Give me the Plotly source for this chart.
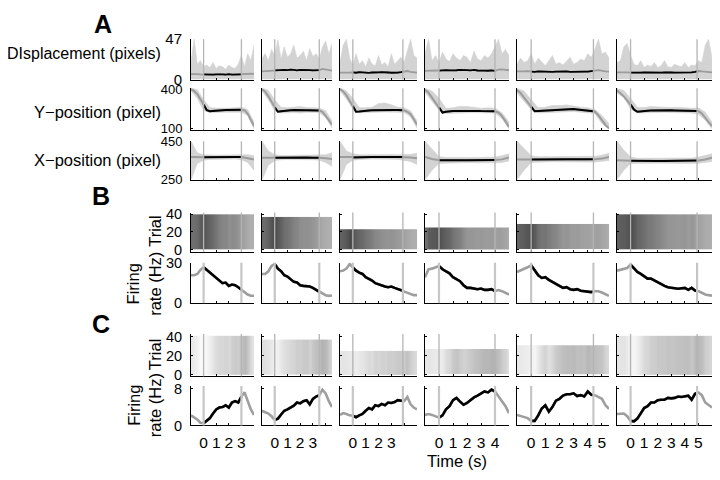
import numpy as np
import plotly.graph_objects as go

# page is 720x480; the browser body adds an 8 px margin round the figure
PAGE_W, PAGE_H, PAD = 720, 480, 8
W, H = PAGE_W - 2 * PAD, PAGE_H - 2 * PAD

# ---------------- layout of the six sessions (columns) ----------------
DELAY = [3.0, 3.5, 3.9, 4.0, 4.4, 4.9]          # end of delay (s)
T_END = [4.0, 4.5, 5.0, 5.0, 5.5, 6.0]          # right end of time axis (s)
TIME_TICKS = [[0, 1, 2, 3], [0, 1, 2, 3], [0, 1, 2, 3], [0, 1, 2, 3, 4],
              [0, 1, 2, 3, 4, 5], [0, 1, 2, 3, 4, 5]]
COL_LEFT_PX = [191, 262, 340, 425, 517, 617]
COL_RIGHT_PX = [254, 332, 417, 509, 609, 712]

# ---------------- data ----------------
# Displacement (pixels), sampled every 0.25 s from -1 s
DISP_TOP = [
    [20, 47, 18, 22, 15, 17, 14, 20, 13, 16, 15, 12, 17, 14, 13, 18, 28, 15, 30, 22, 40],
    [25, 30, 22, 35, 28, 46, 24, 38, 26, 30, 40, 25, 28, 33, 22, 36, 27, 30, 24, 38, 45, 30, 42],
    [20, 40, 47, 25, 17, 30, 18, 22, 15, 25, 18, 16, 28, 17, 20, 15, 30, 18, 22, 26, 20, 35, 47, 28, 25],
    [30, 47, 22, 28, 20, 32, 24, 21, 30, 25, 22, 28, 26, 20, 33, 24, 22, 28, 25, 30, 38, 47, 30, 35, 28],
    [18, 25, 20, 22, 30, 18, 25, 20, 16, 22, 28, 18, 20, 17, 22, 26, 18, 20, 24, 22, 30, 26, 35, 47, 30, 32, 25],
    [20, 22, 38, 42, 28, 18, 16, 22, 14, 17, 15, 20, 14, 16, 22, 15, 14, 18, 16, 15, 20, 14, 17, 16, 22, 20, 40, 47, 25],
]
DISP_MEAN = [
    [6.5, 6.8, 6.4, 6.2, 6.0, 5.8, 6.1, 5.9, 6.2, 5.7, 6.0, 5.9, 6.3, 5.8, 6.1, 6.0, 6.2, 6.5, 7.0, 6.8, 6.6],
    [9.5, 9.8, 10.0, 10.2, 10.8, 11.2, 10.9, 11.4, 11.0, 11.6, 11.2, 10.8, 11.3, 11.5, 10.9, 11.1, 10.7, 11.2, 11.0, 12.5, 11.8, 11.0, 10.5],
    [8.2, 8.0, 7.8, 8.1, 8.3, 8.0, 8.6, 8.2, 8.5, 7.9, 8.3, 8.0, 8.4, 8.7, 8.1, 8.3, 8.0, 8.5, 8.2, 8.6, 9.5, 10.0, 9.0, 8.5, 8.2],
    [10.2, 10.5, 10.3, 10.6, 10.4, 10.8, 11.0, 10.7, 11.2, 10.9, 11.3, 11.5, 11.0, 10.8, 11.2, 10.6, 10.9, 10.5, 10.3, 10.7, 10.2, 11.5, 11.8, 11.2, 10.9],
    [9.5, 9.3, 9.6, 9.8, 9.4, 9.0, 9.5, 9.2, 9.6, 9.3, 9.1, 9.4, 9.7, 9.2, 9.5, 9.0, 9.3, 9.6, 9.8, 9.4, 9.2, 9.5, 10.5, 11.0, 9.8, 9.5, 9.2],
    [8.5, 8.7, 8.3, 8.4, 8.2, 8.0, 8.3, 8.1, 8.4, 8.2, 8.0, 8.3, 8.1, 8.2, 8.4, 8.0, 8.3, 8.2, 8.1, 8.3, 8.0, 8.2, 8.5, 9.0, 10.0, 9.5, 9.0, 8.6, 8.4],
]
# Y-position (pixel): mean every 0.25 s, trial envelope every 0.5 s
YPOS_MEAN = [
    [400, 385, 362, 325, 284, 240, 232, 235, 238, 240, 240, 241, 241, 242, 242, 243, 244, 240, 212, 170, 120],
    [398, 380, 345, 300, 262, 228, 232, 236, 238, 240, 241, 241, 240, 241, 240, 240, 240, 239, 238, 228, 200, 165, 130],
    [400, 382, 352, 312, 272, 228, 230, 234, 236, 238, 239, 240, 240, 241, 242, 243, 243, 242, 241, 240, 238, 228, 210, 172, 130],
    [395, 372, 335, 298, 262, 222, 228, 232, 233, 233, 234, 234, 235, 235, 234, 234, 233, 233, 233, 233, 232, 222, 195, 155, 112],
    [392, 370, 335, 300, 268, 232, 234, 236, 238, 239, 240, 242, 244, 247, 250, 251, 249, 246, 243, 240, 238, 236, 230, 200, 160, 128, 102],
    [392, 372, 345, 315, 284, 245, 228, 232, 235, 236, 237, 238, 239, 240, 240, 240, 239, 238, 238, 237, 236, 236, 235, 234, 233, 215, 180, 150, 120],
]
YPOS_HI = [
    [410, 395, 320, 260, 255, 258, 256, 258, 262, 245, 150],
    [410, 390, 320, 262, 258, 265, 268, 260, 258, 256, 235, 160],
    [410, 385, 330, 260, 258, 262, 290, 295, 282, 262, 258, 235, 160],
    [405, 385, 330, 255, 258, 270, 268, 262, 255, 258, 255, 220, 150],
    [405, 385, 320, 258, 262, 275, 275, 280, 272, 262, 258, 245, 200, 140],
    [405, 390, 330, 262, 260, 268, 265, 262, 260, 262, 258, 255, 258, 225, 150],
]
YPOS_LO = [
    [385, 330, 240, 220, 222, 224, 225, 226, 225, 200, 100],
    [385, 320, 235, 218, 220, 222, 218, 224, 225, 222, 185, 105],
    [385, 325, 250, 220, 222, 225, 225, 226, 228, 225, 222, 190, 105],
    [375, 310, 240, 215, 218, 220, 220, 222, 222, 220, 218, 175, 100],
    [370, 310, 245, 218, 222, 224, 226, 228, 230, 225, 222, 215, 140, 97],
    [370, 335, 250, 218, 220, 222, 222, 224, 225, 222, 220, 218, 210, 165, 100],
]
# X-position (pixel): every 0.5 s
XPOS_MEAN = [
    [368, 366, 367, 368, 368, 369, 369, 369, 368, 362, 355],
    [365, 364, 364, 365, 365, 365, 366, 366, 365, 365, 362, 358],
    [368, 367, 366, 368, 368, 369, 369, 369, 369, 368, 368, 366, 362],
    [368, 358, 352, 351, 351, 351, 352, 352, 352, 352, 353, 356, 366],
    [356, 355, 355, 356, 356, 357, 357, 357, 357, 356, 356, 357, 360, 368],
    [352, 350, 349, 348, 348, 348, 348, 348, 348, 348, 348, 348, 350, 355, 365],
]
XPOS_HI = [
    [450, 390, 380, 378, 378, 379, 379, 380, 382, 380, 375],
    [450, 400, 380, 376, 376, 377, 377, 377, 377, 378, 380, 390],
    [450, 400, 385, 380, 380, 381, 381, 381, 381, 380, 380, 382, 388],
    [450, 410, 370, 366, 365, 365, 366, 366, 366, 366, 368, 375, 385],
    [450, 410, 375, 370, 370, 371, 371, 371, 371, 370, 370, 372, 378, 388],
    [450, 405, 368, 362, 362, 362, 362, 362, 362, 362, 362, 363, 368, 375, 385],
]
XPOS_LO = [
    [250, 335, 352, 356, 357, 358, 358, 358, 354, 340, 300],
    [250, 325, 350, 354, 355, 355, 355, 355, 354, 352, 340, 320],
    [250, 330, 352, 356, 357, 358, 358, 358, 357, 356, 352, 345, 330],
    [250, 300, 335, 338, 338, 338, 339, 339, 339, 339, 338, 340, 348],
    [250, 300, 340, 343, 343, 344, 344, 344, 344, 343, 342, 342, 345, 350],
    [250, 300, 335, 336, 336, 336, 336, 336, 336, 336, 336, 335, 336, 340, 345],
]
# Trials per session (raster heights)
TRIALS_B = [40, 37, 23, 25, 29, 40]
TRIALS_C = [41, 37, 25, 27, 31, 41]
# Firing rates (Hz), every 0.25 s from -1 s
RATE_B = [
    [21, 21, 22, 25, 27, 25, 23, 21.5, 19, 17, 15, 15.5, 13, 14, 13.5, 12, 10, 8, 6.5, 5.5, 5.5],
    [22, 22, 24, 28, 29.5, 26, 24, 21, 20, 18, 16, 15.5, 13.5, 13, 12.8, 12.5, 11.5, 10, 8.5, 7, 6, 5.5, 5.8],
    [24, 24.5, 26, 29.5, 27, 24.5, 23, 22, 19.5, 18.5, 17, 15, 14, 13, 12.5, 12, 12.5, 11.5, 10.5, 10, 9, 7.5, 6.5, 6, 6],
    [19.5, 25.5, 26, 27, 28, 25.5, 24, 22.5, 19.5, 18, 16.5, 13.5, 11.5, 11.5, 11, 10.5, 11, 10, 10, 10.5, 9, 9.8, 9, 8, 6.5],
    [23.5, 24.5, 25.5, 27, 28.5, 25, 21, 19, 19.5, 17.5, 16, 15, 13.5, 11.5, 12, 10.5, 10, 10.5, 9.3, 9, 8.8, 8.3, 9, 9, 8, 7, 5.5],
    [24.5, 25, 25.5, 26.5, 29, 26.5, 23.5, 22, 20.5, 18.5, 18.5, 17, 15.9, 14.5, 13, 12, 11.8, 11.2, 10.8, 11, 11.5, 10, 11.5, 9.5, 9, 7.8, 6.5, 6, 5.6],
]
RATE_C = [
    [2.2, 1.8, 1.3, 0.6, 0.5, 1.0, 1.6, 2.6, 3.5, 3.9, 4.0, 4.4, 3.9, 5.0, 5.3, 5.0, 6.3, 7.2, 5.5, 3.5, 2.3],
    [3.2, 2.9, 2.6, 2.0, 1.2, 1.5, 2.4, 3.2, 3.5, 4.0, 4.3, 5.0, 4.8, 5.3, 5.5, 4.6, 5.8, 6.3, 6.6, 7.8, 7.0, 5.3, 4.0],
    [2.3, 2.7, 2.5, 2.2, 2.1, 1.8, 2.2, 2.5, 3.2, 3.8, 3.5, 4.4, 4.2, 4.7, 4.4, 5.0, 4.9, 5.1, 5.5, 5.4, 5.3, 6.2, 4.6, 3.9, 3.5],
    [2.3, 2.5, 2.3, 2.0, 1.7, 2.2, 3.5, 4.2, 5.5, 6.0, 5.2, 4.5, 4.9, 5.6, 6.1, 6.5, 7.0, 7.4, 7.2, 7.8, 7.4, 6.4, 5.2, 4.2, 2.7],
    [2.3, 2.1, 1.9, 1.6, 1.0, 1.0, 2.2, 3.7, 4.4, 3.0, 4.0, 5.4, 5.8, 6.5, 6.8, 6.8, 7.0, 6.4, 6.6, 6.3, 7.4, 6.7, 6.6, 6.2, 5.8, 4.4, 3.6],
    [2.5, 2.6, 2.6, 2.0, 1.0, 0.9, 1.5, 2.6, 3.8, 4.2, 5.0, 5.0, 5.5, 5.6, 5.6, 6.0, 5.9, 6.0, 6.3, 6.2, 6.4, 6.5, 5.6, 6.9, 7.2, 6.6, 5.0, 4.4, 3.9],
]

# ---------------- rows ----------------
ROW_TOP_PX = [31, 82, 137, 211, 263, 337, 391]
ROW_BOT_PX = [73, 125, 177, 252, 305, 381, 432]
ROW_RANGE = [[0, 47], [92, 406], [250, 450], [-3, 42], [0, 30.5], [-2, 43], [0, 8.6]]
ROW_TICKS = [[0, 47], [100, 400], [250, 450], [0, 20, 40], [0, 30], [0, 20, 40], [0, 8]]
ROW_TICKFONT = [15, 13, 13, 14.5, 14.5, 14.5, 14.5]

FONT = "Liberation Sans, Arial, sans-serif"
GREY_LINE = "#9c9c9c"
BAND = "#d3d3d3"
VLINE = "#b4b4b4"


def fx(px):
    return min(1.0, max(0.0, (px - PAD) / W))


def fy(py):
    return min(1.0, max(0.0, 1 - (py - PAD) / H))


def tgrid(vals, step):
    return [-1 + i * step for i in range(len(vals))]


def delay_segment(t, v, d):
    t = np.asarray(t, float)
    v = np.asarray(v, float)
    inside = (t > 0) & (t < d)
    ts = np.concatenate([[0.0], t[inside], [d]])
    vs = np.concatenate([[np.interp(0.0, t, v)], v[inside], [np.interp(d, t, v)]])
    return ts, vs


fig = go.Figure()
layout = dict(width=W, height=H, autosize=False, margin=dict(l=0, r=0, t=0, b=0),
              paper_bgcolor="white", plot_bgcolor="white", showlegend=False,
              font=dict(family=FONT, color="black"))
shapes = []

for r in range(7):
    for c in range(6):
        k = r * 6 + c + 1
        xn = "x" if k == 1 else f"x{k}"
        yn = "y" if k == 1 else f"y{k}"
        xk = "xaxis" if k == 1 else f"xaxis{k}"
        yk = "yaxis" if k == 1 else f"yaxis{k}"
        d = DELAY[c]
        layout[xk] = dict(domain=[fx(COL_LEFT_PX[c]), fx(COL_RIGHT_PX[c])], anchor=yn,
                          range=[-1, T_END[c]], showline=True, linecolor="black", linewidth=1,
                          ticks="inside", ticklen=2, tickcolor="black",
                          tickvals=list(range(0, int(T_END[c]) + 1)),
                          ticktext=[str(v) if v in TIME_TICKS[c] else "" for v in range(0, int(T_END[c]) + 1)],
                          showticklabels=(r == 6), tickfont=dict(size=15.5),
                          ticklabelstandoff=3,
                          showgrid=False, zeroline=False, fixedrange=True)
        layout[yk] = dict(domain=[fy(ROW_BOT_PX[r]), fy(ROW_TOP_PX[r])], anchor=xn,
                          range=ROW_RANGE[r], showline=True, linecolor="black", linewidth=1,
                          ticks="inside", ticklen=2, tickcolor="black",
                          tickvals=ROW_TICKS[r], showticklabels=(c == 0),
                          tickfont=dict(size=ROW_TICKFONT[r]), ticklabelstandoff=5,
                          showgrid=False, zeroline=False, fixedrange=True)

        lw_v = 1.3
        if r == 0:
            t = tgrid(DISP_TOP[c], 0.25)
            fig.add_trace(go.Scatter(x=t, y=DISP_TOP[c], mode="lines", fill="tozeroy",
                                     fillcolor=BAND, line=dict(color=BAND, width=0.6),
                                     xaxis=xn, yaxis=yn, hoverinfo="skip"))
            tm = tgrid(DISP_MEAN[c], 0.25)
            fig.add_trace(go.Scatter(x=tm, y=DISP_MEAN[c], mode="lines",
                                     line=dict(color=GREY_LINE, width=1.8),
                                     xaxis=xn, yaxis=yn, hoverinfo="skip"))
            ts, vs = delay_segment(tm, DISP_MEAN[c], d)
            fig.add_trace(go.Scatter(x=ts, y=vs, mode="lines", line=dict(color="black", width=1.8),
                                     xaxis=xn, yaxis=yn, hoverinfo="skip"))
        elif r in (1, 2):
            hi = YPOS_HI[c] if r == 1 else XPOS_HI[c]
            lo = YPOS_LO[c] if r == 1 else XPOS_LO[c]
            mean = YPOS_MEAN[c] if r == 1 else XPOS_MEAN[c]
            step = 0.25 if r == 1 else 0.5
            tb = tgrid(hi, 0.5)
            fig.add_trace(go.Scatter(x=tb + tb[::-1], y=list(hi) + list(lo)[::-1], mode="lines",
                                     fill="toself", fillcolor=BAND, line=dict(color=BAND, width=0.6),
                                     xaxis=xn, yaxis=yn, hoverinfo="skip"))
            tm = tgrid(mean, step)
            fig.add_trace(go.Scatter(x=tm, y=mean, mode="lines",
                                     line=dict(color=GREY_LINE, width=2),
                                     xaxis=xn, yaxis=yn, hoverinfo="skip"))
            ts, vs = delay_segment(tm, mean, d)
            fig.add_trace(go.Scatter(x=ts, y=vs, mode="lines", line=dict(color="black", width=2),
                                     xaxis=xn, yaxis=yn, hoverinfo="skip"))
        elif r in (3, 5):
            rate = RATE_B[c] if r == 3 else RATE_C[c]
            ntr = TRIALS_B[c] if r == 3 else TRIALS_C[c]
            if r == 3:
                cs = [[0, "#ffffff"], [0.15, "#b2b2b2"], [1, "#404040"]]
                zmax = 32
            else:
                cs = [[0, "#ffffff"], [0.2, "#eeeeee"], [1, "#b0b0b0"]]
                zmax = 8
            fig.add_trace(go.Heatmap(x=tgrid(rate, 0.25), y=[0, ntr], z=[rate], zmin=0, zmax=zmax,
                                     colorscale=cs, showscale=False, zsmooth="best",
                                     xaxis=xn, yaxis=yn, hoverinfo="skip"))
        else:
            rate = RATE_B[c] if r == 4 else RATE_C[c]
            tm = tgrid(rate, 0.25)
            fig.add_trace(go.Scatter(x=tm, y=rate, mode="lines",
                                     line=dict(color="#9e9e9e", width=2.6),
                                     xaxis=xn, yaxis=yn, hoverinfo="skip"))
            ts, vs = delay_segment(tm, rate, d)
            fig.add_trace(go.Scatter(x=ts, y=vs, mode="lines", line=dict(color="black", width=2.6),
                                     xaxis=xn, yaxis=yn, hoverinfo="skip"))
            lw_v = 2.2
        for tv in (0, d):
            shapes.append(dict(type="line", xref=xn, yref=f"{yn} domain", x0=tv, x1=tv,
                               y0=0, y1=1, layer="above",
                               line=dict(color=VLINE if lw_v < 2 else "#c6c6c6", width=lw_v)))

ann = []


def add_text(text, xpx, ypx, size, xanchor="center", angle=0, bold=False):
    ann.append(dict(text=f"<b>{text}</b>" if bold else text, x=fx(xpx), y=fy(ypx),
                    xref="paper", yref="paper", xanchor=xanchor, yanchor="middle",
                    showarrow=False, textangle=angle, font=dict(size=size, family=FONT)))


add_text("A", 103, 15, 25, bold=True)
add_text("B", 101, 194, 25, bold=True)
add_text("C", 101, 327, 25, bold=True)
add_text("DIsplacement (pixels)", 163, 46, 16, xanchor="right")
add_text("Y\u2212position (pixel)", 163, 107, 16.5, xanchor="right")
add_text("X\u2212position (pixel)", 163, 156, 16.5, xanchor="right")
add_text("Trial", 155, 231, 16.5, angle=-90)
add_text("Firing<br>rate (Hz)", 144, 285, 16.5, angle=-90)
add_text("Trial", 155, 359, 16.5, angle=-90)
add_text("Firing<br>rate (Hz)", 144, 411, 16.5, angle=-90)
add_text("Time (s)", 457, 469, 16.5)

layout["shapes"] = shapes
layout["annotations"] = ann
fig.update_layout(**layout)
fig.write_html("out.html", config={"displayModeBar": False})
